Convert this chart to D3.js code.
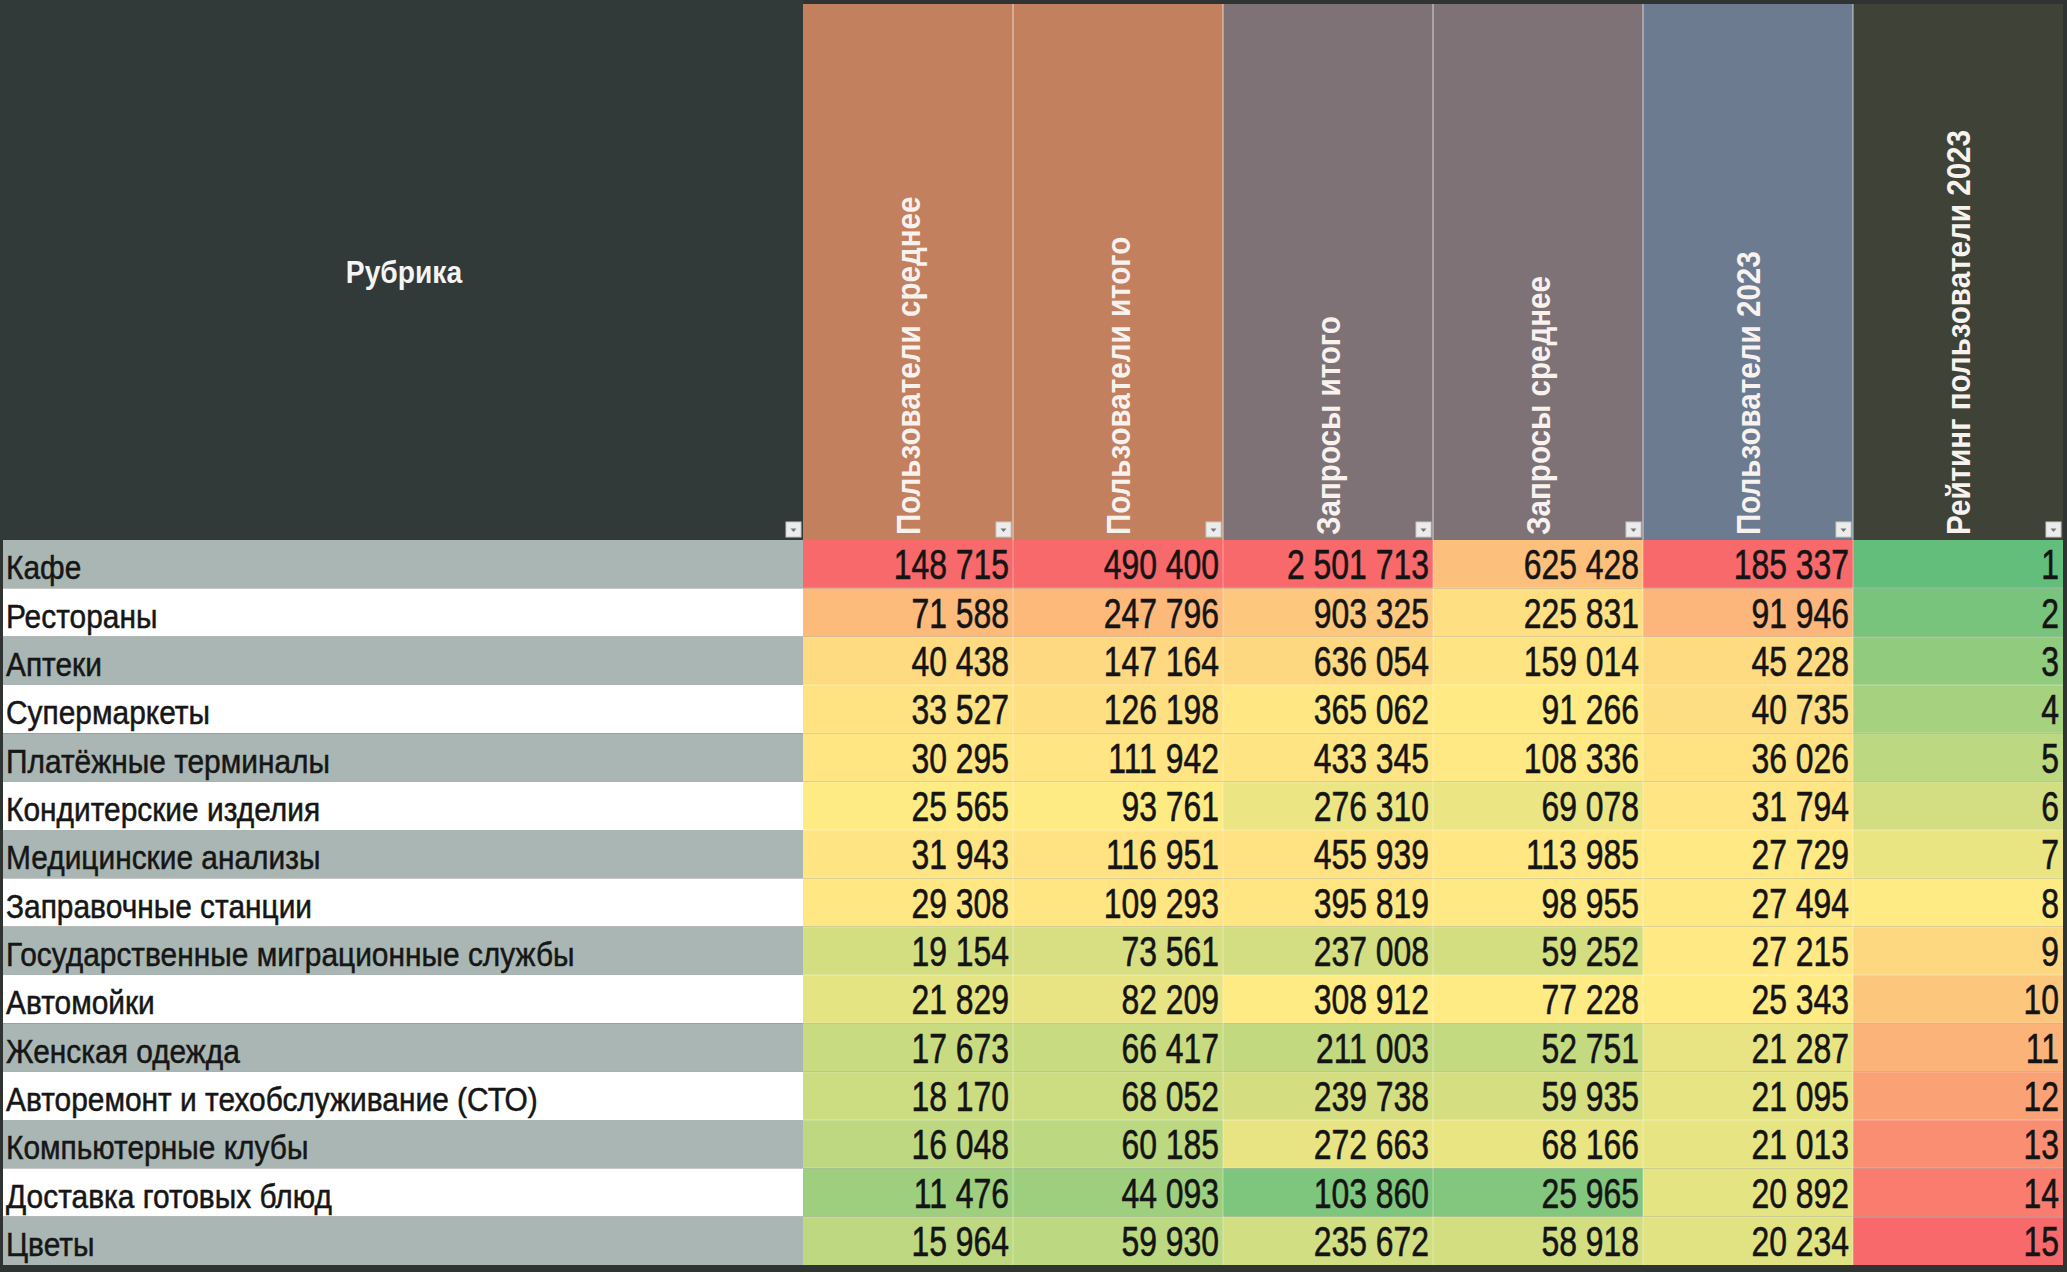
<!DOCTYPE html>
<html><head><meta charset="utf-8">
<script src="https://cdn.jsdelivr.net/npm/d3@7"></script>
<style>html,body{margin:0;padding:0;background:#fff;overflow:hidden}</style>
</head><body>
<svg id="chart" width="2067" height="1272"></svg>
<script>
// ---------- DATA ----------
const categories = ["Кафе","Рестораны","Аптеки","Супермаркеты","Платёжные терминалы","Кондитерские изделия","Медицинские анализы","Заправочные станции","Государственные миграционные службы","Автомойки","Женская одежда","Авторемонт и техобслуживание (СТО)","Компьютерные клубы","Доставка готовых блюд","Цветы"];
const usersAvg     = [148715,71588,40438,33527,30295,25565,31943,29308,19154,21829,17673,18170,16048,11476,15964];
const usersTotal   = [490400,247796,147164,126198,111942,93761,116951,109293,73561,82209,66417,68052,60185,44093,59930];
const queriesTotal = [2501713,903325,636054,365062,433345,276310,455939,395819,237008,308912,211003,239738,272663,103860,235672];
const queriesAvg   = [625428,225831,159014,91266,108336,69078,113985,98955,59252,77228,52751,59935,68166,25965,58918];
const users2023    = [185337,91946,45228,40735,36026,31794,27729,27494,27215,25343,21287,21095,21013,20892,20234];
const rating2023   = [1,2,3,4,5,6,7,8,9,10,11,12,13,14,15];
const headerTitle  = "Рубрика";
const columnTitles = ["Пользователи среднее","Пользователи итого","Запросы итого","Запросы среднее","Пользователи 2023","Рейтинг пользователи 2023"];
// colour-scale domains (min, mid, max) of each column's conditional formatting
const colorDomains = [[3000,25565,148715],[15000,93761,490400],[60000,308912,2501713],[13000,77228,1700000],[0,25000,185337],[1,8,15]];

const columns = [usersAvg, usersTotal, queriesTotal, queriesAvg, users2023, rating2023];

// ---------- STYLE / LAYOUT ----------
const W = 2067, H = 1272;
const frameColor = "#2f3332";
const headerColors = ["#c2805f","#c2805f","#7f7277","#7f7277","#6c7b8f","#3f4236"];
const rubrikaColor = "#313a39";
const bandGray = "#a9b6b3";
const scaleColors = ["#63be7b","#ffeb84","#f8696b"];
const labelRight = 803, headerTop = 4, headerBottom = 540, dataBottom = 1265, rightEdge = 2063;
const FONT = "Liberation Sans, Arial, sans-serif";

const svg = d3.select("#chart");
const x = d3.scaleBand().domain(d3.range(columns.length)).range([labelRight, rightEdge]);
const y = d3.scaleBand().domain(categories).range([headerBottom, dataBottom]);
const fmtLocale = d3.formatLocale({decimal:",", thousands:"\u00a0", grouping:[3], currency:["",""]});
const fmt = fmtLocale.format(",d");
const colorScales = colorDomains.map(d => d3.scaleLinear().domain(d).range(scaleColors).interpolate(d3.interpolateRgb).clamp(true));

// frame
svg.append("rect").attr("x",0).attr("y",0).attr("width",W).attr("height",H).attr("fill",frameColor);

// header cells
svg.append("rect").attr("x",0).attr("y",0).attr("width",labelRight).attr("height",headerBottom).attr("fill",rubrikaColor);
svg.selectAll("rect.hdr").data(columnTitles).join("rect").attr("class","hdr")
  .attr("x",(d,i)=>x(i)).attr("y",headerTop).attr("width",x.bandwidth()).attr("height",headerBottom-headerTop)
  .attr("fill",(d,i)=>headerColors[i]);
svg.selectAll("line.hsep").data(d3.range(1,columns.length)).join("line").attr("class","hsep")
  .attr("x1",i=>x(i)).attr("x2",i=>x(i)).attr("y1",headerTop).attr("y2",headerBottom)
  .attr("stroke","#ffffff").attr("stroke-opacity",0.35).attr("stroke-width",2);

// header texts
svg.append("text").attr("transform",`translate(404,283) scale(0.91,1)`)
  .attr("text-anchor","middle").attr("font-family",FONT)
  .attr("font-weight","bold").attr("font-size",31).attr("fill","#f4f4f4").text(headerTitle);
svg.selectAll("text.ctitle").data(columnTitles).join("text").attr("class","ctitle")
  .attr("transform",(d,i)=>`translate(${x(i)+x.bandwidth()/2},535) rotate(-90) scale(0.87,1)`)
  .attr("y","0.36em").attr("text-anchor","start")
  .attr("font-family",FONT).attr("font-weight","bold")
  .attr("font-size",34).attr("fill","#f7f2ee").text(d=>d);

// filter buttons
const btnX = [labelRight].concat(d3.range(columns.length).map(i=>x(i)+x.bandwidth()));
const btn = svg.selectAll("g.btn").data(btnX).join("g").attr("class","btn")
  .attr("transform",d=>`translate(${d-17},${headerBottom-18})`);
btn.append("rect").attr("width",15).attr("height",15).attr("fill","#ececec").attr("stroke","#c8c8c8").attr("stroke-width",1);
btn.append("path").attr("d","M4.5,6.5 L10.5,6.5 L7.5,10 Z").attr("fill","#777");

// label column rows
svg.selectAll("rect.lab").data(categories).join("rect").attr("class","lab")
  .attr("x",3).attr("y",d=>y(d)).attr("width",labelRight-3).attr("height",y.bandwidth())
  .attr("fill",(d,i)=>i%2===0?bandGray:"#ffffff");
svg.selectAll("text.lab").data(categories).join("text").attr("class","lab")
  .attr("transform",d=>`translate(6,${y(d)+y.bandwidth()-9}) scale(0.92,1)`)
  .attr("font-family",FONT).attr("font-size",32.5)
  .attr("fill","#161616").attr("stroke","#161616").attr("stroke-width",0.5).text(d=>d);

// data cells
const cells = [];
columns.forEach((col,ci)=>col.forEach((v,ri)=>cells.push({ci,ri,v})));
svg.selectAll("rect.cell").data(cells).join("rect").attr("class","cell")
  .attr("x",d=>x(d.ci)).attr("y",d=>y(categories[d.ri])).attr("width",x.bandwidth()).attr("height",y.bandwidth())
  .attr("fill",d=>colorScales[d.ci](d.v));
// faint grid
svg.selectAll("line.vg").data(d3.range(1,columns.length)).join("line").attr("class","vg")
  .attr("x1",i=>x(i)).attr("x2",i=>x(i)).attr("y1",headerBottom).attr("y2",dataBottom)
  .attr("stroke","#ffffff").attr("stroke-opacity",0.25).attr("stroke-width",1.5);
svg.selectAll("line.hg").data(categories.slice(1)).join("line").attr("class","hg")
  .attr("x1",labelRight).attr("x2",rightEdge).attr("y1",d=>y(d)).attr("y2",d=>y(d))
  .attr("stroke","#ffffff").attr("stroke-opacity",0.25).attr("stroke-width",1.5);
svg.selectAll("text.val").data(cells).join("text").attr("class","val")
  .attr("transform",d=>`translate(${x(d.ci)+x.bandwidth()-4},${y(categories[d.ri])+y.bandwidth()/2+15}) scale(0.76,1)`)
  .attr("text-anchor","end").attr("font-family",FONT).attr("font-size",42)
  .attr("fill","#141414").attr("stroke","#141414").attr("stroke-width",0.6).text(d=>fmt(d.v));
</script>
</body></html>
